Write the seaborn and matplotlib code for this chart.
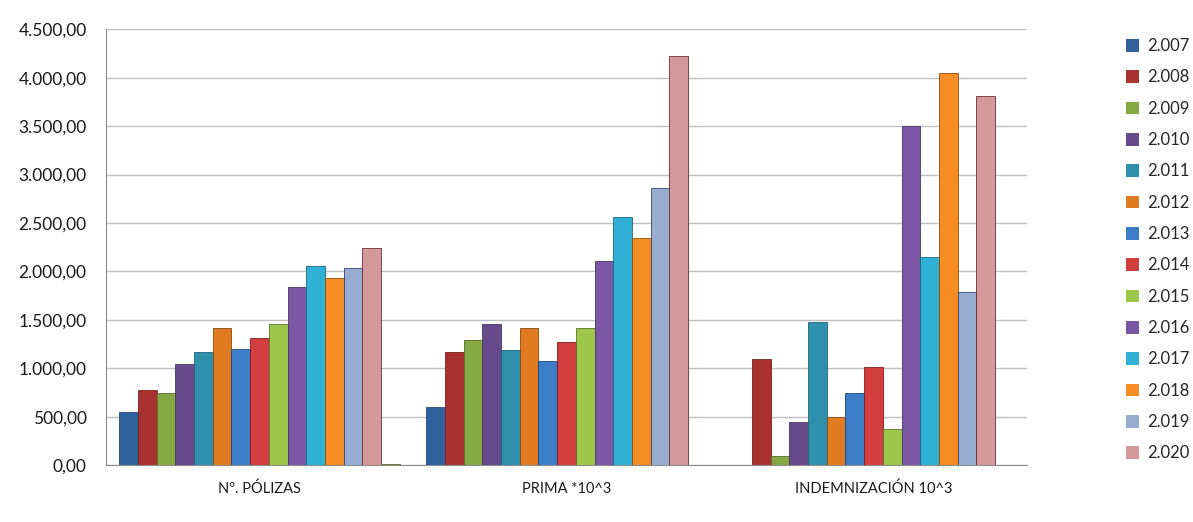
import numpy as np
import pandas as pd
import matplotlib.pyplot as plt
import seaborn as sns
from matplotlib.ticker import FuncFormatter

# Datos
categorias = ['Nº. PÓLIZAS', 'PRIMA *10^3', 'INDEMNIZACIÓN 10^3']
anios = ['2.007', '2.008', '2.009', '2.010', '2.011', '2.012', '2.013',
         '2.014', '2.015', '2.016', '2.017', '2.018', '2.019', '2.020', '2.021']

polizas = [546, 776, 742, 1044, 1171, 1415, 1202, 1308, 1453, 1841, 2054, 1930, 2033, 2239, 10]
prima = [604, 1164, 1291, 1459, 1185, 1411, 1071, 1274, 1411, 2105, 2562, 2349, 2861, 4227, 0]
indemnizacion = [0, 1099, 89, 450, 1473, 501, 745, 1010, 374, 3496, 2146, 4049, 1782, 3815, 0]

colores = ['#30609c', '#a8302e', '#84a843', '#674a8a', '#2e90ad', '#e07b21', '#3b7dc8',
           '#d23d3d', '#9dc64a', '#7a58a6', '#31b1d6', '#f58d24', '#98add1', '#d3999b',
           '#b5c98a']

df = pd.DataFrame({
    'Categoria': np.repeat(categorias, len(anios)),
    'Anio': anios * len(categorias),
    'Valor': polizas + prima + indemnizacion,
})

sns.set_style('white')
plt.rcParams['font.family'] = ['Lato', 'DejaVu Sans']

fig = plt.figure(figsize=(11.93, 5.22), dpi=100)
ax = fig.add_axes([0.0889, 0.109, 0.772, 0.835])

sns.barplot(data=df, x='Categoria', y='Valor', hue='Anio', hue_order=anios,
            palette=colores, width=0.914, ax=ax, edgecolor='none', saturation=1)

# Borde más oscuro para imitar el relieve
for cont, c in zip(ax.containers, colores):
    for b in cont:
        b.set_edgecolor(sns.set_hls_values(c, l=0.3))
        b.set_linewidth(0.6)

ax.set_ylim(0, 4500)
ax.set_xlim(-0.5, 2.5)
ax.set_yticks(np.arange(0, 4501, 500))
ax.yaxis.set_major_formatter(FuncFormatter(
    lambda v, p: f'{v:,.2f}'.replace(',', 'X').replace('.', ',').replace('X', '.')))
ax.grid(axis='y', color='#bfbfbf', linewidth=1)
ax.set_axisbelow(True)
for s in ['top', 'right']:
    ax.spines[s].set_visible(False)
ax.spines['left'].set_color('#8c8c8c')
ax.spines['bottom'].set_color('#8c8c8c')
ax.tick_params(axis='both', length=0, colors='#1a1a1a')
ax.tick_params(axis='y', labelsize=12.5, pad=14)
ax.tick_params(axis='x', labelsize=10.5, pad=12)
ax.set_xlabel('')
ax.set_ylabel('')

handles, labels = ax.get_legend_handles_labels()
ax.get_legend().remove()
fig.legend(handles[:14], labels[:14], loc='upper left', bbox_to_anchor=(0.944, 0.927),
           frameon=False, fontsize=12, labelspacing=0.92, handlelength=0.78,
           handleheight=0.78, handletextpad=0.45, borderpad=0, borderaxespad=0)

fig.savefig('out.png', dpi=100)
